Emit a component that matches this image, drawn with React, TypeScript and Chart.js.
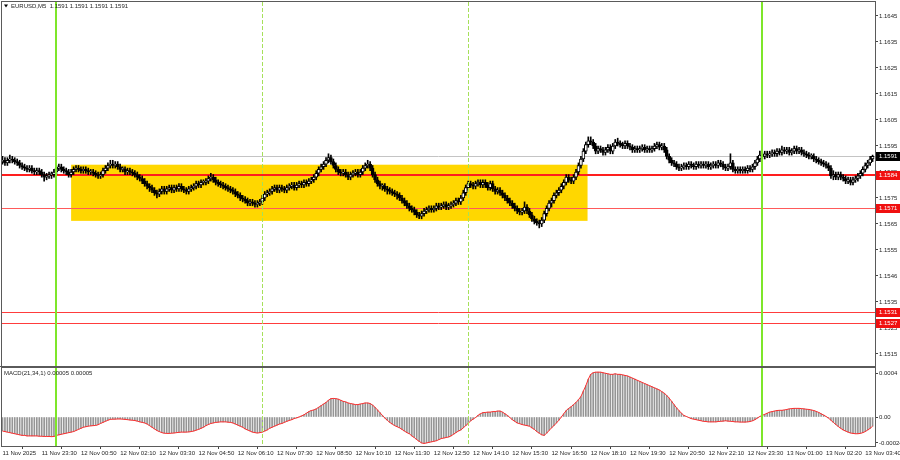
import React, { useEffect, useRef } from 'react';
import { Chart, registerables } from 'chart.js';

Chart.register(...registerables);

// ---------- data (prices stored in pips above 1.1500) ----------
const BASE = 1.15;
const PIP = 0.0001;

const opensPips = [89,89.5,88.5,89.5, 90,89.5,89,88.5, 87.5,87,86.5,86, 86.5,85.5,85,85.5, 85,84,83,83.5, 84,84, 85,86.5,87, 86,85.5,85,84, 85,86,86.5,86, 85.5,86,85.5,85, 85,84.5,84,83.5, 84,85.5,86.5,87.5, 88,87.5,88,87, 86,86,85,85.5, 85,84.5,84,83, 82.5,81.5,80.5,79.5, 79,78,77,76.5, 77.5,78.5,77.5,78.5, 79,78,79,78.5, 79.5,78.5,78,77.5,78.5, 79,79.5,80.5,80, 81,81,81.5,82.5, 83,82,81,80.5, 80,79.5,79,78.5, 78,77.5,76.5,76, 75,74.5,74,73, 73.5,73,72.5,73, 73.5,75,76.5,77, 77.5,78.5,79,78, 79,78.5,78,79, 79.5,80,79,80, 80.5,80,81,80.5,81.5, 82,83,84.5,86, 87,88,89.5,90.5, 89,87.5,86,85, 84.5,85,84,83, 84,84.5,85,84, 85,86.5,87.5,88, 86.5,84,82,80.5, 79.5,79.5,78.5,78, 77.5,77,76.5,76, 75,74,73,72, 71,70.5,69.5,68.5,68, 69,70,70.5,71, 70.5,71,72,71.5, 72,72.5,71.5,72, 72.5,73,74,73.5, 75,77,79,80.5, 80,79.5,80.5,81, 80,81,80,79, 80.5,78.5,77.5,78, 77,76,75,74, 73,72,71,70, 69.5,70,71.5,70, 68.5,67,66,65.5, 65,66.5,69,71, 73,74,76,77,78, 79.5,81,83,82, 81.5,83,85,87.5, 90,93,95.5,97, 96.5,95,93,94, 93.5,92.5,93.5,94.5, 93,95,96.5,96, 95.5,95,96,95, 94.5,93.5,94,93.5, 94,94.5,93.5,94, 93.5,94,95,95.5, 94.5,95,93.5,91, 89.5,88.5,88,87,86.5, 87,87.5,87,88, 87.5,87,88,87.5, 88,87.5,88,87, 87.5,88,87.5,88.5, 88,87,86.5,87, 88.5,86,85.5,86, 85.5,86,85.5,86.5, 86,87,88.5,90, 91.5,91,92,91.5, 92,92.5,92,93, 92.5,93.5,93,93.5,92.5, 93,94,93,93.5, 92.5,92,91.5,91, 91,90,89.5,89, 88.5,88,87.5,86.5, 83.5,84,83,84, 83,82.5,81.5,82, 81,82,82.5,83.5, 84.5,86,87.5,88.5,90];

const highsPips = [91,90.5,90.5,91.5, 91,90.5,90,89.5, 88.5,88,87.5,87.5, 87.5,86.5,86.5,86.5, 86,85,84.5,85, 85,86, 87.5,88,88, 87,86.5,86,86, 87,87.5,87.5,87, 87,87,86.5,86, 86,85.5,85,85, 86.5,87.5,88.5,89.5, 89.5,89,89,88, 87,87,86.5,86.5, 86,85.5,85,84, 83.5,82.5,81.5,80.5, 80,79,78,78.5, 79.5,79.5,79.5,80, 80,80,80,80.5, 80.5,79.5,79,79.5,80, 80.5,81.5,81.5,82, 82,82.5,83.5,84.5, 84,83,82,81.5, 81,80.5,80,79.5, 79,78.5,77.5,77, 76,75.5,75,74.5, 74.5,74,74,74.5, 76,77.5,78,78.5, 79.5,80,80,80, 80,79.5,80,80.5, 81,81,81,81.5, 81.5,82,82,82.5,83, 84,85.5,87,88, 89,90.5,92,91.5, 90,88.5,87,86, 86,86,85,85, 85.5,86,86,86, 87.5,88.5,89.5,89, 87.5,85,83,81.5, 80.5,80.5,79.5,79, 78.5,78,77.5,77, 76,75,74,73, 72,71.5,70.5,69.5,70, 71,71.5,72,72, 72,73,73,73, 73.5,73.5,73,73.5, 74,75,75,76, 78,80,81.5,81.5, 81,81.5,82,82, 82,82,81,81.5, 81.5,79.5,79,79, 78,77,76,75, 74,73,72,71, 71,73.5,72.5,71, 69.5,68,67,66.5, 67.5,70,72,74, 75,77,78,79,80.5, 82,84,84,83, 84,86,88.5,91, 94,96.5,98.5,98.5, 97.5,96,95,95, 94.5,94.5,95.5,95.5, 96,97.5,98,97, 96.5,97,97,96, 95.5,95,95,95, 95.5,95.5,95,95, 95,96,96.5,96.5, 96,96,94.5,92, 90.5,89.5,89,88,88, 88.5,88.5,89,89, 88.5,89,89,89, 89,89,89,88.5, 89,89,89.5,89.5, 89,88,88,92, 89.5,87,87,87, 87,87,87.5,87.5, 88,89.5,91,93, 92.5,93,93,93, 93.5,93.5,94,94, 95,94.5,94.5,94.5,94, 95,95,94.5,94.5, 93.5,93,92.5,92, 92,91,90.5,90, 89.5,89,88.5,87.5, 85.5,85,85,85, 84,83.5,83,83, 83,83.5,84.5,85.5, 87,88.5,89.5,91,91.5];

const lowsPips = [88,87.5,87.5,88.5, 88.5,88,87.5,86.5, 86,85.5,85,85, 84.5,84,84,84, 83,81.5,82,82.5, 82.5,83, 84,85.5,85, 84.5,84,83,83, 84,85,85,84.5, 84.5,84.5,84,84, 83.5,83,82.5,82.5, 83,84.5,85.5,86.5, 86.5,86.5,86,85, 85,84,84,84, 83.5,83,82,81.5, 80.5,79.5,78.5,77.5, 77,76,75,75.5, 76.5,76.5,76.5,77.5, 77,77,77.5,77.5, 77.5,77,76.5,76.5,77.5, 78,78.5,79,79, 80,80,80.5,81.5, 81,80,79.5,79, 78.5,78,77.5,77, 76.5,75.5,75,74, 73.5,73,72,72, 72,71.5,71.5,72, 72.5,74,75.5,76, 76.5,77.5,77,77, 77.5,77,77,78, 78.5,78,78,79, 79,79,79.5,79.5,80.5, 81,82,83.5,85, 86,87,88.5,88, 86.5,85,84,83.5, 83.5,83,82,82, 83,83.5,83,83, 84,85.5,86.5,85.5, 83,81,79.5,78.5, 78,77.5,76.5,76.5, 76,75.5,74.5,74, 73,72,71,70, 69.5,68.5,67.5,67,67, 68,69,69.5,69.5, 69.5,70,70.5,70.5, 71,70.5,70.5,71, 71.5,72,72.5,72.5, 74,76,78,79, 78.5,78.5,79.5,79, 79,79,78,78, 77.5,76.5,76.5,76, 75,74,73,72, 71,70,69,68.5, 68.5,69,69,67.5, 66,65,64.5,63.5, 64,65.5,68,70, 71.5,73,75,76,77, 78.5,80,81,80.5, 80.5,82,84,86.5, 89,92,94.5,95.5, 94,92,92,92.5, 91.5,91.5,92.5,92, 92,94,95,94.5, 94,94,94,93.5, 92.5,92.5,92.5,92.5, 93,92.5,92.5,92.5, 92.5,93,94,93.5, 93.5,92.5,90,88.5, 87.5,87,86,85.5,85.5, 86,86,86,86.5, 86,86,86.5,86.5, 86.5,86.5,86,86, 86.5,86.5,86.5,87, 86,85.5,85.5,86, 85,84.5,84.5,84.5, 84.5,84.5,84.5,85, 85,86,87.5,89, 90,90,90.5,90.5, 91,91,91,91.5, 91.5,92,92,91.5,91.5, 92,92,92,91.5, 91,90.5,90,90, 89,88.5,88,87.5, 87,86.5,85.5,82.5, 82,82,82,82, 81.5,80.5,80.5,80, 80,81,81.5,82.5, 83.5,85,86.5,87.5,89];

const closesPips = [89.5,88.5,89.5,90, 89.5,89,88.5,87.5, 87,86.5,86,86.5, 85.5,85,85.5,85, 84,83,83.5,84, 84,85, 86.5,87,86, 85.5,85,84,85, 86,86.5,86,85.5, 86,85.5,85,85, 84.5,84,83.5,84, 85.5,86.5,87.5,88, 87.5,88,87,86, 86,85,85.5,85, 84.5,84,83,82.5, 81.5,80.5,79.5,79, 78,77,76.5,77.5, 78.5,77.5,78.5,79, 78,79,78.5,79.5, 78.5,78,77.5,78.5,79, 79.5,80.5,80,81, 81,81.5,82.5,83, 82,81,80.5,80, 79.5,79,78.5,78, 77.5,76.5,76,75, 74.5,74,73,73.5, 73,72.5,73,73.5, 75,76.5,77,77.5, 78.5,79,78,79, 78.5,78,79,79.5, 80,79,80,80.5, 80,81,80.5,81.5,82, 83,84.5,86,87, 88,89.5,90.5,89, 87.5,86,85,84.5, 85,84,83,84, 84.5,85,84,85, 86.5,87.5,88,86.5, 84,82,80.5,79.5, 79.5,78.5,78,77.5, 77,76.5,76,75, 74,73,72,71, 70.5,69.5,68.5,68,69, 70,70.5,71,70.5, 71,72,71.5,72, 72.5,71.5,72,72.5, 73,74,73.5,75, 77,79,80.5,80, 79.5,80.5,81,80, 81,80,79,80.5, 78.5,77.5,78,77, 76,75,74,73, 72,71,70,69.5, 70,71.5,70,68.5, 67,66,65.5,65, 66.5,69,71,73, 74,76,77,78,79.5, 81,83,82,81.5, 83,85,87.5,90, 93,95.5,97,96.5, 95,93,94,93.5, 92.5,93.5,94.5,93, 95,96.5,96,95.5, 95,96,95,94.5, 93.5,94,93.5,94, 94.5,93.5,94,93.5, 94,95,95.5,94.5, 95,93.5,91,89.5, 88.5,88,87,86.5,87, 87.5,87,88,87.5, 87,88,87.5,88, 87.5,88,87,87.5, 88,87.5,88.5,88, 87,86.5,87,88.5, 86,85.5,86,85.5, 86,85.5,86.5,86, 87,88.5,90,91.5, 91,92,91.5,92, 92.5,92,93,92.5, 93.5,93,93.5,92.5,93, 94,93,93.5,92.5, 92,91.5,91,91, 90,89.5,89,88.5, 88,87.5,86.5,83.5, 84,83,84,83, 82.5,81.5,82,81, 82,82.5,83.5,84.5, 86,87.5,88.5,90,91];

// MACD(21,34,1) main value per bar, in pips (x 0.0001)
const macdPips = [-1.3,-1.35,-1.4,-1.45, -1.5,-1.55,-1.6,-1.65, -1.7,-1.7,-1.75,-1.75, -1.75,-1.75,-1.75,-1.78, -1.78,-1.8,-1.8,-1.8, -1.82,-1.8, -1.7,-1.65,-1.6, -1.55,-1.5,-1.45,-1.4, -1.35,-1.25,-1.15,-1.05, -0.95,-0.9,-0.85,-0.82, -0.8,-0.78,-0.72,-0.6, -0.5,-0.4,-0.3,-0.22, -0.2,-0.2,-0.18,-0.18, -0.2,-0.22,-0.25,-0.28, -0.3,-0.33,-0.38,-0.45, -0.5,-0.55,-0.65,-0.8, -0.95,-1.1,-1.25,-1.35, -1.45,-1.5,-1.52,-1.52, -1.5,-1.48,-1.45,-1.42, -1.4,-1.4,-1.4,-1.38,-1.35, -1.3,-1.22,-1.15,-1.05, -0.95,-0.8,-0.7,-0.6, -0.55,-0.5,-0.48,-0.45, -0.45,-0.45,-0.48,-0.5, -0.55,-0.65,-0.75,-0.85, -0.95,-1.1,-1.2,-1.3, -1.4,-1.45,-1.48,-1.45, -1.4,-1.3,-1.2,-1.05, -0.95,-0.85,-0.75,-0.65, -0.6,-0.5,-0.4,-0.32, -0.25,-0.15,-0.08,0, 0.1,0.2,0.35,0.5,0.6, 0.65,0.75,0.9,1.05, 1.2,1.35,1.55,1.7, 1.72,1.7,1.65,1.55, 1.45,1.4,1.3,1.25, 1.2,1.15,1.15,1.2, 1.25,1.3,1.3,1.25, 1.1,0.9,0.65,0.4, 0.15,-0.1,-0.3,-0.5, -0.65,-0.8,-0.9,-1.0, -1.15,-1.3,-1.45,-1.55, -1.75,-1.9,-2.1,-2.25,-2.4, -2.45,-2.4,-2.35,-2.3, -2.25,-2.2,-2.1,-2.0, -1.95,-1.9,-1.85,-1.75, -1.6,-1.45,-1.3,-1.2, -1.0,-0.8,-0.6,-0.35, -0.2,-0.05,0.15,0.3, 0.4,0.42,0.45,0.45, 0.5,0.5,0.55,0.55, 0.45,0.3,0.15,-0.05, -0.25,-0.4,-0.55,-0.62, -0.7,-0.75,-0.8,-0.85, -1.0,-1.15,-1.35,-1.5, -1.65,-1.7,-1.5,-1.25, -1.0,-0.8,-0.55,-0.3,0, 0.3,0.6,0.8,0.95, 1.15,1.35,1.6,1.9, 2.4,2.9,3.5,3.95, 4.1,4.15,4.15,4.15, 4.1,4.05,4.0,3.95, 3.95,4.0,3.95,3.95, 3.9,3.85,3.8,3.7, 3.6,3.5,3.4,3.3, 3.2,3.1,3.0,2.9, 2.8,2.7,2.6,2.5, 2.35,2.2,2.0,1.75, 1.45,1.15,0.85,0.6,0.35, 0.15,0.05,-0.05,-0.15, -0.2,-0.25,-0.3,-0.35, -0.4,-0.42,-0.45,-0.45, -0.45,-0.45,-0.42,-0.4, -0.38,-0.35,-0.38,-0.4, -0.42,-0.45,-0.45,-0.47, -0.47,-0.47,-0.45,-0.42, -0.35,-0.25,-0.1,0.05, 0.15,0.25,0.35,0.45, 0.5,0.55,0.6,0.62, 0.62,0.65,0.7,0.75,0.78, 0.8,0.8,0.8,0.78, 0.75,0.72,0.7,0.65, 0.6,0.52,0.42,0.3, 0.18,0.05,-0.1,-0.3, -0.5,-0.7,-0.88,-1.05, -1.2,-1.3,-1.4,-1.48, -1.52,-1.55,-1.55,-1.52, -1.45,-1.35,-1.2,-1.05,-0.85];

const timeTickBars = [0, 16, 32, 48, 64, 80, 96, 112, 128, 144, 160, 176, 192, 208, 224, 240, 256, 272, 288, 304, 320, 336, 352];
const timeTickLabels = ['11 Nov 2025', '11 Nov 23:30', '12 Nov 00:50', '12 Nov 02:10', '12 Nov 03:30', '12 Nov 04:50', '12 Nov 06:10', '12 Nov 07:30', '12 Nov 08:50', '12 Nov 10:10', '12 Nov 11:30', '12 Nov 12:50', '12 Nov 14:10', '12 Nov 15:30', '12 Nov 16:50', '12 Nov 18:10', '12 Nov 19:30', '12 Nov 20:50', '12 Nov 22:10', '12 Nov 23:30', '13 Nov 01:00', '13 Nov 02:20', '13 Nov 03:40'];

const priceTicks = [1.1645, 1.1635, 1.1625, 1.1615, 1.1605, 1.1595, 1.1585, 1.1575, 1.1565, 1.1555, 1.1545, 1.1535, 1.1525, 1.1515];
const priceTickLabels = ['1.1645', '1.1635', '1.1625', '1.1615', '1.1605', '1.1595', '1.1585', '1.1575', '1.1565', '1.1555', '1.1546', '1.1535', '1.1525', '1.1515'];

const levelPrices = [1.1584, 1.1571, 1.1531, 1.1527];
const currentPrice = 1.1591;
const daySeparatorBars = [22, 310];
const sessionBars = [106, 190];
const zoneBars = [28, 238.7];
const zonePrices = [1.15878, 1.15662];

const macdTicks = [0.0004, 0, -0.00024];
const macdTickLabels = ['0.0004', '0.00', '-0.00024'];

const titleText = 'EURUSD,M5  1.1591 1.1591 1.1591 1.1591';
const macdTitleText = 'MACD(21,34,1) 0.00005 0.00005';

// ---------- layout constants ----------
const X_MIN = -0.2;
const X_MAX = 355.98;
const Y_MIN = 1.151038;
const Y_MAX = 1.165038;
const MACD_MIN = -0.0002685;
const MACD_MAX = 0.0004537;
const FONT_FAMILY = '"Liberation Sans", Arial, sans-serif';
const FONT_SIZE = 6;
const TEXT_COLOR = '#1e1e1e';
const FRAME_COLOR = '#5a5a5a';
const GREEN_SOLID = '#7ee62a';
const GREEN_DASH = '#a6e05a';

const toPrice = (p: number) => BASE + p * PIP;

function drawVerticals(chart: any) {
  const { ctx, chartArea: a, scales } = chart;
  const x = scales.x;
  ctx.save();
  ctx.beginPath();
  ctx.rect(a.left, a.top, a.right - a.left, a.bottom - a.top);
  ctx.clip();
  ctx.strokeStyle = GREEN_SOLID;
  ctx.lineWidth = 2;
  daySeparatorBars.forEach((b) => {
    const px = Math.round(x.getPixelForValue(b));
    ctx.beginPath();
    ctx.moveTo(px, a.top);
    ctx.lineTo(px, a.bottom);
    ctx.stroke();
  });
  ctx.strokeStyle = GREEN_DASH;
  ctx.lineWidth = 1;
  ctx.setLineDash([4, 2]);
  sessionBars.forEach((b) => {
    const px = Math.round(x.getPixelForValue(b)) + 0.5;
    ctx.beginPath();
    ctx.moveTo(px, a.top);
    ctx.lineTo(px, a.bottom);
    ctx.stroke();
  });
  ctx.restore();
}

function drawFrame(chart: any, bottomWidth: number) {
  const { ctx, chartArea: a } = chart;
  ctx.save();
  ctx.strokeStyle = FRAME_COLOR;
  ctx.lineWidth = 1;
  ctx.strokeRect(a.left - 0.5, a.top - 0.5, a.right - a.left + 1, a.bottom - a.top + 1);
  if (bottomWidth > 1) {
    ctx.lineWidth = bottomWidth;
    ctx.beginPath();
    ctx.moveTo(0, a.bottom + bottomWidth / 2);
    ctx.lineTo(a.right + 1, a.bottom + bottomWidth / 2);
    ctx.stroke();
  }
  ctx.restore();
}

const pricePlugin = {
  id: 'priceDecor',
  beforeDatasetsDraw(chart: any) {
    const { ctx, chartArea: a, scales } = chart;
    const x = scales.x;
    const y = scales.y;
    ctx.save();
    ctx.beginPath();
    ctx.rect(a.left, a.top, a.right - a.left, a.bottom - a.top);
    ctx.clip();
    // yellow zone
    const x0 = x.getPixelForValue(zoneBars[0]);
    const x1 = x.getPixelForValue(zoneBars[1]);
    const y0 = y.getPixelForValue(zonePrices[0]);
    const y1 = y.getPixelForValue(zonePrices[1]);
    ctx.fillStyle = '#ffd700';
    ctx.fillRect(x0, y0, x1 - x0, y1 - y0);
    // current price line
    const yc = Math.round(y.getPixelForValue(currentPrice)) + 0.5;
    ctx.strokeStyle = '#c4c4c4';
    ctx.lineWidth = 1;
    ctx.beginPath();
    ctx.moveTo(a.left, yc);
    ctx.lineTo(a.right, yc);
    ctx.stroke();
    // horizontal levels
    const widths = [2, 1, 1, 1];
    const colors = ['#ff1e1e', '#ff5a5a', '#ff3c3c', '#ff3c3c'];
    levelPrices.forEach((lv, i) => {
      const py = Math.round(y.getPixelForValue(lv)) + (widths[i] % 2 ? 0.5 : 0);
      ctx.strokeStyle = colors[i];
      ctx.lineWidth = widths[i];
      ctx.beginPath();
      ctx.moveTo(a.left, py);
      ctx.lineTo(a.right, py);
      ctx.stroke();
    });
    ctx.restore();
  },
  afterDatasetsDraw(chart: any) {
    drawVerticals(chart);
  },
  afterDraw(chart: any) {
    const { ctx, chartArea: a, scales } = chart;
    const y = scales.y;
    drawFrame(chart, 2);
    ctx.save();
    ctx.font = `${FONT_SIZE}px ${FONT_FAMILY}`;
    ctx.textBaseline = 'middle';
    ctx.textAlign = 'left';
    const box = (val: number, bg: string) => {
      const py = Math.round(y.getPixelForValue(val));
      ctx.fillStyle = bg;
      ctx.fillRect(a.right + 1, py - 4, 900 - a.right - 1, 9);
      ctx.fillStyle = '#ffffff';
      ctx.fillText(val.toFixed(4), a.right + 4, py + 0.5);
    };
    levelPrices.forEach((lv) => box(lv, '#f01010'));
    box(currentPrice, '#000000');
    // title
    ctx.fillStyle = '#000';
    ctx.beginPath();
    ctx.moveTo(4, 4.5);
    ctx.lineTo(8, 4.5);
    ctx.lineTo(6, 7.5);
    ctx.closePath();
    ctx.fill();
    ctx.fillStyle = TEXT_COLOR;
    ctx.fillText(titleText, 11, 6.5);
    ctx.restore();
  },
};

const macdPlugin = {
  id: 'macdDecor',
  afterDatasetsDraw(chart: any) {
    drawVerticals(chart);
  },
  afterDraw(chart: any) {
    const { ctx, chartArea: a } = chart;
    drawFrame(chart, 1);
    ctx.save();
    ctx.font = `${FONT_SIZE}px ${FONT_FAMILY}`;
    ctx.textBaseline = 'middle';
    ctx.textAlign = 'left';
    ctx.fillStyle = TEXT_COLOR;
    ctx.fillText(macdTitleText, 4, a.top + 5.5);
    ctx.restore();
  },
};

const tickFont = { family: FONT_FAMILY, size: FONT_SIZE };

export default function App() {
  const priceRef = useRef<HTMLCanvasElement | null>(null);
  const macdRef = useRef<HTMLCanvasElement | null>(null);

  useEffect(() => {
    if (!priceRef.current || !macdRef.current) return;

    const wickData = highsPips.map((h, i) => ({ x: i, y: [toPrice(lowsPips[i]), toPrice(h)] }));
    const bodyData = closesPips.map((c, i) => ({ x: i, y: [toPrice(opensPips[i]), toPrice(c)] }));
    const bodyFill = closesPips.map((c, i) => (c >= opensPips[i] ? '#ffffff' : '#000000'));
    const macdData = macdPips.map((m, i) => ({ x: i, y: m * PIP }));

    const priceChart = new Chart(priceRef.current, {
      type: 'bar',
      data: {
        datasets: [
          {
            label: 'body',
            data: bodyData as any,
            backgroundColor: bodyFill,
            borderColor: '#000000',
            borderWidth: 1,
            borderSkipped: false,
            barThickness: 3,
            minBarLength: 1,
            grouped: false,
            order: 1,
          } as any,
          {
            label: 'wick',
            data: wickData as any,
            backgroundColor: '#000000',
            borderWidth: 0,
            barThickness: 1,
            grouped: false,
            order: 2,
          } as any,
        ],
      },
      options: {
        animation: false,
        responsive: false,
        maintainAspectRatio: false,
        events: [],
        layout: { padding: { left: 2, top: 2, right: 0, bottom: 1 } },
        plugins: { legend: { display: false }, tooltip: { enabled: false }, title: { display: false } },
        scales: {
          x: { type: 'linear', min: X_MIN, max: X_MAX, display: false, offset: false },
          y: {
            type: 'linear',
            position: 'right',
            min: Y_MIN,
            max: Y_MAX,
            afterFit: (s: any) => {
              s.width = 25;
              s.paddingTop = 0;
              s.paddingBottom = 0;
            },
            afterBuildTicks: (s: any) => {
              s.ticks = priceTicks.map((v) => ({ value: v }));
            },
            ticks: {
              autoSkip: false,
              padding: 1,
              color: TEXT_COLOR,
              font: tickFont,
              callback: (_v: any, i: number) => priceTickLabels[i],
            },
            grid: { drawOnChartArea: false, drawTicks: true, tickLength: 3, color: '#444' },
            border: { display: false },
          },
        },
      } as any,
      plugins: [pricePlugin],
    });

    const macdChart = new Chart(macdRef.current, {
      type: 'bar',
      data: {
        datasets: [
          {
            type: 'line',
            label: 'signal',
            data: macdData as any,
            borderColor: '#ff2b2b',
            borderWidth: 1,
            pointRadius: 0,
            tension: 0,
            order: 1,
          } as any,
          {
            type: 'bar',
            label: 'macd',
            data: macdData as any,
            backgroundColor: '#959595',
            borderWidth: 0,
            barThickness: 1,
            grouped: false,
            order: 2,
          } as any,
        ],
      },
      options: {
        animation: false,
        responsive: false,
        maintainAspectRatio: false,
        events: [],
        layout: { padding: { left: 2, top: 2, right: 0, bottom: 0 } },
        plugins: { legend: { display: false }, tooltip: { enabled: false }, title: { display: false } },
        scales: {
          x: {
            type: 'linear',
            min: X_MIN,
            max: X_MAX,
            offset: false,
            afterFit: (s: any) => {
              s.height = 14;
              s.paddingLeft = 0;
              s.paddingRight = 0;
            },
            afterBuildTicks: (s: any) => {
              s.ticks = timeTickBars.map((v) => ({ value: v }));
            },
            ticks: {
              autoSkip: false,
              maxRotation: 0,
              minRotation: 0,
              align: 'start',
              padding: 1,
              color: TEXT_COLOR,
              font: tickFont,
              callback: (_v: any, i: number) => timeTickLabels[i],
            },
            grid: { drawOnChartArea: false, drawTicks: true, tickLength: 3, color: '#444' },
            border: { display: false },
          },
          y: {
            type: 'linear',
            position: 'right',
            min: MACD_MIN,
            max: MACD_MAX,
            afterFit: (s: any) => {
              s.width = 25;
              s.paddingTop = 0;
              s.paddingBottom = 0;
            },
            afterBuildTicks: (s: any) => {
              s.ticks = macdTicks.map((v) => ({ value: v }));
            },
            ticks: {
              autoSkip: false,
              padding: 1,
              color: TEXT_COLOR,
              font: tickFont,
              callback: (_v: any, i: number) => macdTickLabels[i],
            },
            grid: { drawOnChartArea: false, drawTicks: true, tickLength: 3, color: '#444' },
            border: { display: false },
          },
        },
      } as any,
      plugins: [macdPlugin],
    });

    return () => {
      priceChart.destroy();
      macdChart.destroy();
    };
  }, []);

  return (
    <div style={{ position: 'absolute', left: 0, top: 0, width: 900, height: 460, background: '#ffffff', overflow: 'hidden' }}>
      <canvas ref={priceRef} width={900} height={367} style={{ position: 'absolute', left: 0, top: 0, width: 900, height: 367 }} />
      <canvas ref={macdRef} width={900} height={94} style={{ position: 'absolute', left: 0, top: 366, width: 900, height: 94 }} />
    </div>
  );
}
